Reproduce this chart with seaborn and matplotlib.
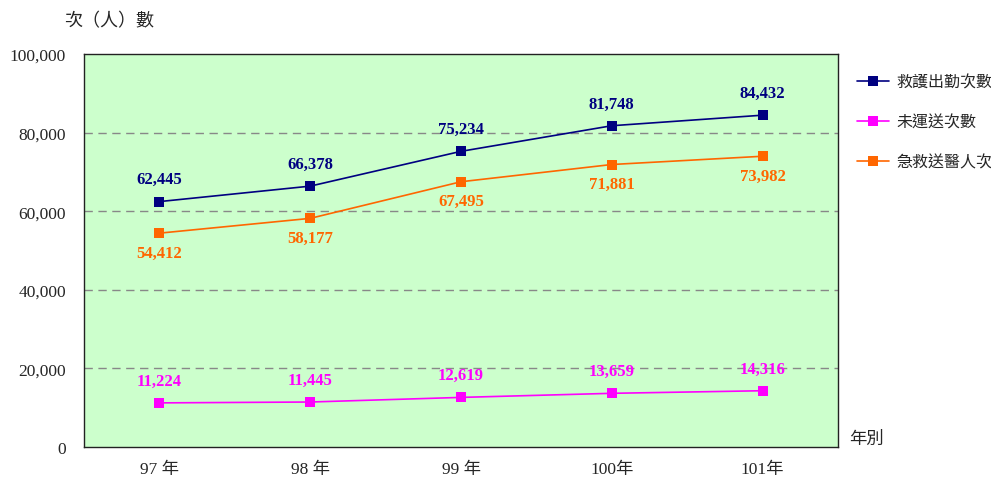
import numpy as np
import pandas as pd
import matplotlib
matplotlib.use("Agg")
import matplotlib.pyplot as plt
import seaborn as sns

years = ["97 年", "98 年", "99 年", "100年", "101年"]
series_names = ["救護出勤次數", "未運送次數", "急救送醫人次"]
rescue = [62445, 66378, 75234, 81748, 84432]
not_sent = [11224, 11445, 12619, 13659, 14316]
sent = [54412, 58177, 67495, 71881, 73982]
yticks = [0, 20000, 40000, 60000, 80000, 100000]

colors = {"救護出勤次數": "#000080", "未運送次數": "#FF00FF", "急救送醫人次": "#FF6600"}
# label offsets in points: above for navy/magenta, below for orange
offsets = {"救護出勤次數": 16, "未運送次數": 16, "急救送醫人次": -14}

sns.set_theme(style="white")
plt.rcParams["font.family"] = ["Liberation Serif", "Noto Sans CJK TC", "DejaVu Sans"]

pos = np.arange(len(years))
df = pd.DataFrame({
    "x": np.tile(pos, 3),
    "value": rescue + not_sent + sent,
    "series": np.repeat(series_names, len(years)),
})

fig = plt.figure(figsize=(9.91, 4.85), dpi=100)
ax = fig.add_axes([0.0848, 0.0763, 0.7608, 0.8103])
ax.set_facecolor("#CCFFCC")

sns.lineplot(data=df, x="x", y="value", hue="series", hue_order=series_names,
             palette=colors, marker="s", markersize=7.5, markeredgewidth=0,
             linewidth=1.2, ax=ax, legend=False, sort=False)

for name, vals in zip(series_names, [rescue, not_sent, sent]):
    for x, v in zip(pos, vals):
        ax.annotate(f"{v:,}", (x, v), xytext=(0, offsets[name]), textcoords="offset points",
                    ha="center", va="center", color=colors[name], fontsize=12,
                    fontweight="bold", family="Liberation Serif")

ax.set_xlim(-0.5, len(years) - 0.5)
ax.set_ylim(0, 100000)
ax.set_yticks(yticks)
ax.set_yticklabels([f"{t:,}" for t in yticks], fontsize=12.5)
ax.set_xticks(pos)
ax.set_xticklabels(years, fontsize=12.5)
ax.set_xticks(np.arange(0.5, len(years) - 1, 1), minor=True)
ax.tick_params(axis="x", which="major", length=0, pad=10)
ax.tick_params(axis="x", which="minor", length=4, direction="in", color="#333333")
ax.tick_params(axis="y", length=0, pad=13)
for t in yticks[1:-1]:
    ax.axhline(t, color="#888888", linestyle=(0, (6, 4)), linewidth=1, zorder=0.5)
for s in ax.spines.values():
    s.set_color("#222222")
    s.set_linewidth(1.0)
ax.set_xlabel("")
ax.set_ylabel("")

fig.text(0.065, 0.955, "次（人）數", fontsize=13, ha="left", va="center")
fig.text(0.857, 0.092, "年別", fontsize=12.5, ha="left", va="center")

handles = [plt.Line2D([], [], color=colors[n], marker="s", markersize=7.5,
                      markeredgewidth=0, linewidth=1.2) for n in series_names]
fig.legend(handles, series_names, loc="upper left", bbox_to_anchor=(0.850, 0.873),
           frameon=False, fontsize=11.5, handlelength=2.0, handletextpad=0.5,
           labelspacing=1.5)

fig.savefig("out.png", dpi=100)
